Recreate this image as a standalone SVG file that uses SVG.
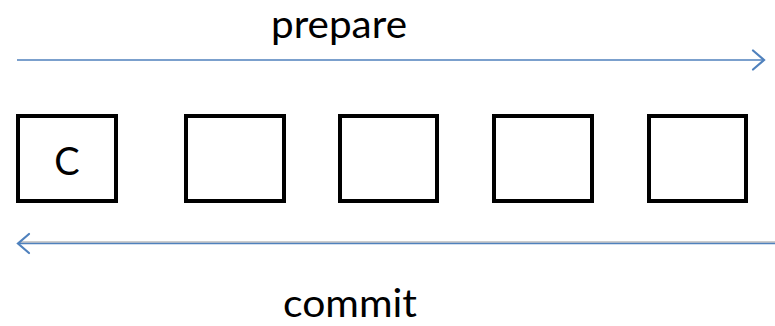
<svg xmlns="http://www.w3.org/2000/svg" width="775" height="326" viewBox="0 0 775 326">
  <style>
    .label { font-family: "Lato", "Open Sans", "Liberation Sans", sans-serif; font-size: 38px; fill: #000; }
    .node rect { fill: #fff; stroke: #000; stroke-width: 4; }
    .flow { stroke: #4f81bd; stroke-width: 1.6; fill: none; }
    .head { stroke: #4f81bd; stroke-width: 2.2; fill: none; stroke-linecap: round; stroke-linejoin: miter; }
  </style>
  <rect width="775" height="326" fill="#fff"/>

  <g id="connectors">
    <!-- prepare: left to right -->
    <g id="prepare-arrow">
      <line class="flow" x1="17" y1="60" x2="763" y2="60"/>
      <polyline class="head" points="753,50.5 764,60 753,69.5"/>
    </g>
    <!-- commit: right to left -->
    <g id="commit-arrow">
      <line x1="20" y1="242" x2="775" y2="242" stroke="#9a9a9a" stroke-width="1.2"/>
      <line class="flow" x1="18" y1="243.5" x2="775" y2="243.5" stroke-width="2"/>
      <polyline class="head" points="29,234 18,243.5 29,253"/>
    </g>
  </g>

  <text id="label-prepare" class="label" x="271" y="38" textLength="136" lengthAdjust="spacingAndGlyphs">prepare</text>
  <text id="label-commit" class="label" x="283" y="317" textLength="134" lengthAdjust="spacingAndGlyphs">commit</text>

  <g id="node-c" class="node">
    <rect x="18" y="116" width="98" height="85"/>
    <text class="label" x="67" y="175" text-anchor="middle">C</text>
  </g>
  <g id="node-2" class="node">
    <rect x="186" y="116" width="98" height="85"/>
  </g>
  <g id="node-3" class="node">
    <rect x="340" y="116" width="97" height="85"/>
  </g>
  <g id="node-4" class="node">
    <rect x="494" y="116" width="98" height="85"/>
  </g>
  <g id="node-5" class="node">
    <rect x="649" y="116" width="97" height="85"/>
  </g>
</svg>
